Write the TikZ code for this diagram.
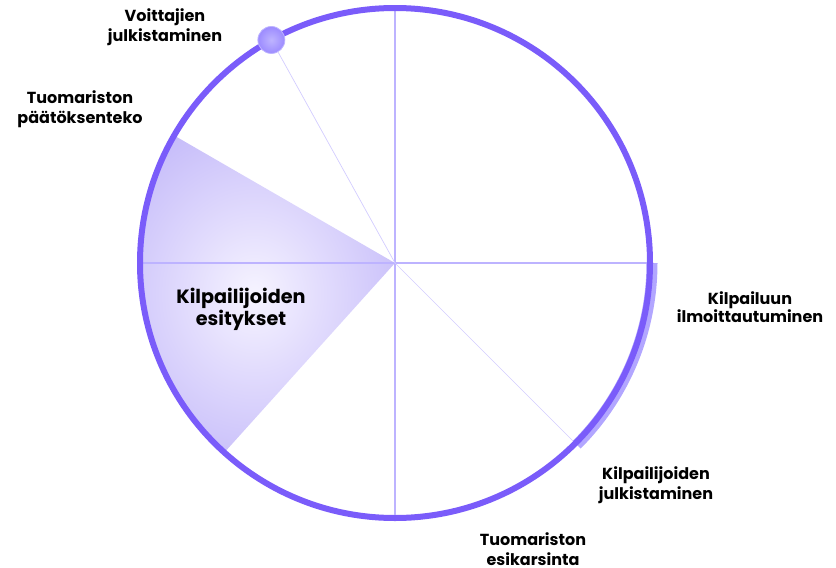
\documentclass[tikz,border=0pt]{standalone}
\usepackage{fontspec}
\IfFontExistsTF{Poppins Bold}{\setmainfont{Poppins}[BoldFont={Poppins Bold}]}{\setmainfont{Poppins}[BoldFeatures={FakeBold=2}]}
\usetikzlibrary{calc}
\definecolor{mainpurple}{HTML}{7A5CFA}
\definecolor{bandpurple}{HTML}{B2A6FF}
\definecolor{linepurple}{HTML}{BDB3FF}
\definecolor{diagpurple}{HTML}{D3CCFF}
\definecolor{secinner}{HTML}{F6F4FF}
\definecolor{secmid}{HTML}{E2DCFD}
\definecolor{secouter}{HTML}{C4BAF9}
\definecolor{dotinner}{HTML}{BEB4FF}
\definecolor{dotouter}{HTML}{9C8BFF}
\pgfdeclareradialshading{secshade}{\pgfpoint{0bp}{0bp}}{color(0bp)=(secinner); color(12bp)=(secmid); color(30bp)=(secouter); color(50bp)=(secouter)}
\tikzset{
  lbl/.style={font=\bfseries\fontsize{16}{20}\selectfont, align=center, text=black, inner sep=0pt, anchor=north},
  biglbl/.style={font=\bfseries\fontsize{19.2}{22}\selectfont, align=center, text=black, inner sep=0pt, anchor=north},
  axisline/.style={draw=linepurple, line width=1.6pt},
  diagline/.style={draw=diagpurple, line width=0.7pt},
  rim/.style={draw=mainpurple, line width=6pt},
  band/.style={draw=bandpurple, line width=11pt},
}
\begin{document}
\begin{tikzpicture}[x=1pt,y=1pt]
\useasboundingbox (0,0) rectangle (836,-568);
\def\R{255}
\coordinate (O) at (395,-263);
% shaded sector
\shade[shading=secshade] (O) -- ($(O)+(150:\R)$) arc[start angle=150, end angle=228, radius=\R] -- cycle;
% axes
\coordinate (top) at ($(O)+(90:\R)$);
\coordinate (bot) at ($(O)+(270:\R)$);
\coordinate (lft) at ($(O)+(180:\R)$);
\coordinate (rgt) at ($(O)+(0:\R)$);
\draw[axisline] (top) -- (bot);
\draw[axisline] (lft) -- (rgt);
% diagonal spokes
\coordinate (d1) at ($(O)+(119:\R)$);
\coordinate (d2) at ($(O)+(-45:\R)$);
\draw[diagline] (O) -- (d1);
\draw[diagline] (O) -- (d2);
% highlighted band
\draw[band] ($(O)+(0:257)$) arc[start angle=0, end angle=-45, radius=257];
% rim
\draw[rim] (O) circle[radius=\R];
% marker dot
\shade[inner color=dotinner, outer color=dotouter] (d1) circle[radius=13.5];
\draw[draw=dotinner, line width=0.8pt] (d1) circle[radius=13.5];
% labels
\node[lbl] (l1) at (165,-8) {Voittajien\\julkistaminen};
\node[lbl] (l2) at (80,-90.5) {Tuomariston\\päätöksenteko};
\node[biglbl] (l3) at (241,-288) {Kilpailijoiden\\esitykset};
\node[lbl, font=\bfseries\fontsize{16}{16}\selectfont] (l4) at (750,-291.5) {Kilpailuun\\ilmoittautuminen};
\node[lbl] (l5) at (656,-466.5) {Kilpailijoiden\\julkistaminen};
\node[lbl] (l6) at (533,-532.5) {Tuomariston\\esikarsinta};
\end{tikzpicture}
\end{document}
